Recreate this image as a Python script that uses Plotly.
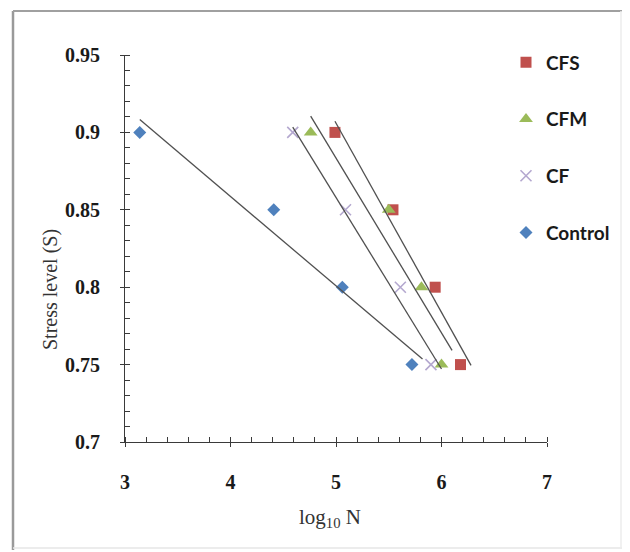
import numpy as np
import plotly.graph_objects as go

# ---- data ----
series_names = ["CFS", "CFM", "CF", "Control"]
stress = [0.90, 0.85, 0.80, 0.75]
log_n_cfs = [4.99, 5.54, 5.94, 6.18]
log_n_cfm = [4.76, 5.50, 5.81, 6.00]
log_n_cf = [4.59, 5.09, 5.61, 5.90]
log_n_control = [3.14, 4.41, 5.06, 5.72]
x_ticks = [3, 4, 5, 6, 7]
y_ticks = [0.7, 0.75, 0.8, 0.85, 0.9, 0.95]
y_tick_labels = ["0.7", "0.75", "0.8", "0.85", "0.9", "0.95"]

series_x = [log_n_cfs, log_n_cfm, log_n_cf, log_n_control]
colors = ["#C0504D", "#9BBB59", "#B4A8CF", "#4F81BD"]
symbols = ["square", "triangle-up", "x-thin", "diamond"]
sizes = [11, 12, 11, 10]

# figure sits 8 px inside the page (body margin)
W, H = 622, 544
ML, MR, MT, MB = 117, 83, 47, 110
XR = [3, 7]
YR = [0.7, 0.95]
pw = W - ML - MR
ph = H - MT - MB


def px(x):
    return (x - ML) / pw


def py(y):
    return 1 - (y - MT) / ph


fig = go.Figure()

# trend lines (least squares of S on log N, forecast forward 0.1)
for xs in series_x:
    xa = np.array(xs)
    ya = np.array(stress)
    b, a = np.polyfit(xa, ya, 1)
    xl = np.array([xa.min(), xa.max() + 0.1])
    fig.add_trace(go.Scatter(x=xl, y=a + b * xl, mode="lines",
                             line=dict(color="#505050", width=1.3),
                             showlegend=False, hoverinfo="skip",
                             xaxis="x2", yaxis="y2"))

for name, xs, c, s, sz in zip(series_names, series_x, colors, symbols, sizes):
    mk = dict(color=c, symbol=s, size=sz)
    if s == "x-thin":
        mk["line"] = dict(color=c, width=1.6)
    fig.add_trace(go.Scatter(x=xs, y=stress, mode="markers", name=name,
                             marker=mk, legendgroup=name))

tick_font = dict(family="Liberation Serif", size=20, color="#1a1a1a",
                 weight="bold")
axis_common = dict(showgrid=False, zeroline=False, showline=True,
                   linecolor="#3a3a3a", linewidth=1.2, tickcolor="#3a3a3a")

fig.update_layout(
    width=W, height=H,
    margin=dict(l=ML, r=MR, t=MT, b=MB),
    paper_bgcolor="white", plot_bgcolor="white",
    xaxis=dict(range=XR, tickvals=x_ticks, ticks="outside", ticklen=4,
               tickwidth=1.2, tickfont=tick_font, ticklabelstandoff=18,
               minor=dict(dtick=0.2, ticks="inside", ticklen=5,
                          tickcolor="#3a3a3a", tickwidth=1),
               **axis_common),
    yaxis=dict(range=YR, tickvals=y_ticks, ticktext=y_tick_labels,
               ticks="outside", ticklen=4, tickwidth=1.2, tickfont=tick_font,
               ticklabelstandoff=16,
               minor=dict(dtick=0.01, ticks="inside", ticklen=5,
                          tickcolor="#3a3a3a", tickwidth=1),
               **axis_common),
    xaxis2=dict(range=XR, overlaying="x", tickvals=x_ticks, ticks="inside",
                ticklen=4, tickwidth=1.2, showticklabels=False,
                side="bottom", **axis_common),
    yaxis2=dict(range=YR, overlaying="y", tickvals=y_ticks, ticks="inside",
                ticklen=4, tickwidth=1.2, showticklabels=False,
                side="left", **axis_common),
    legend=dict(x=px(498), y=py(35.5), xanchor="left",
                yanchor="top", tracegroupgap=29,
                font=dict(family="Lato", size=19, color="#1a1a1a",
                          weight="bold"),
                bgcolor="rgba(0,0,0,0)"),
    showlegend=True,
)

# axis titles
fig.add_annotation(text="Stress level (S)", textangle=-90, showarrow=False,
                   xref="paper", yref="paper", x=px(42), y=py(282),
                   xanchor="center", yanchor="middle",
                   font=dict(family="Liberation Serif", size=20,
                             color="#333333"))
fig.add_annotation(text="log<sub>10</sub> N", showarrow=False,
                   xref="paper", yref="paper", x=px(322), y=py(510),
                   xanchor="center", yanchor="middle",
                   font=dict(family="Liberation Serif", size=21,
                             color="#333333"))

# outer chart frame: darker left/top edges, faint bottom/right edges
frame = [
    (5, 3, 5, 542, "#9a9a9a", 2.5),
    (5, 3, 622, 3, "#a0a0a0", 2),
    (5, 540, 622, 540, "#e6e6e6", 1.5),
    (613, 3, 613, 540, "#ededed", 1.5),
]
for x0, y0, x1, y1, col, wd in frame:
    fig.add_shape(type="line", xref="paper", yref="paper",
                  x0=px(x0), x1=px(x1), y0=py(y0), y1=py(y1),
                  line=dict(color=col, width=wd), layer="below")

fig.write_html("out.html")
